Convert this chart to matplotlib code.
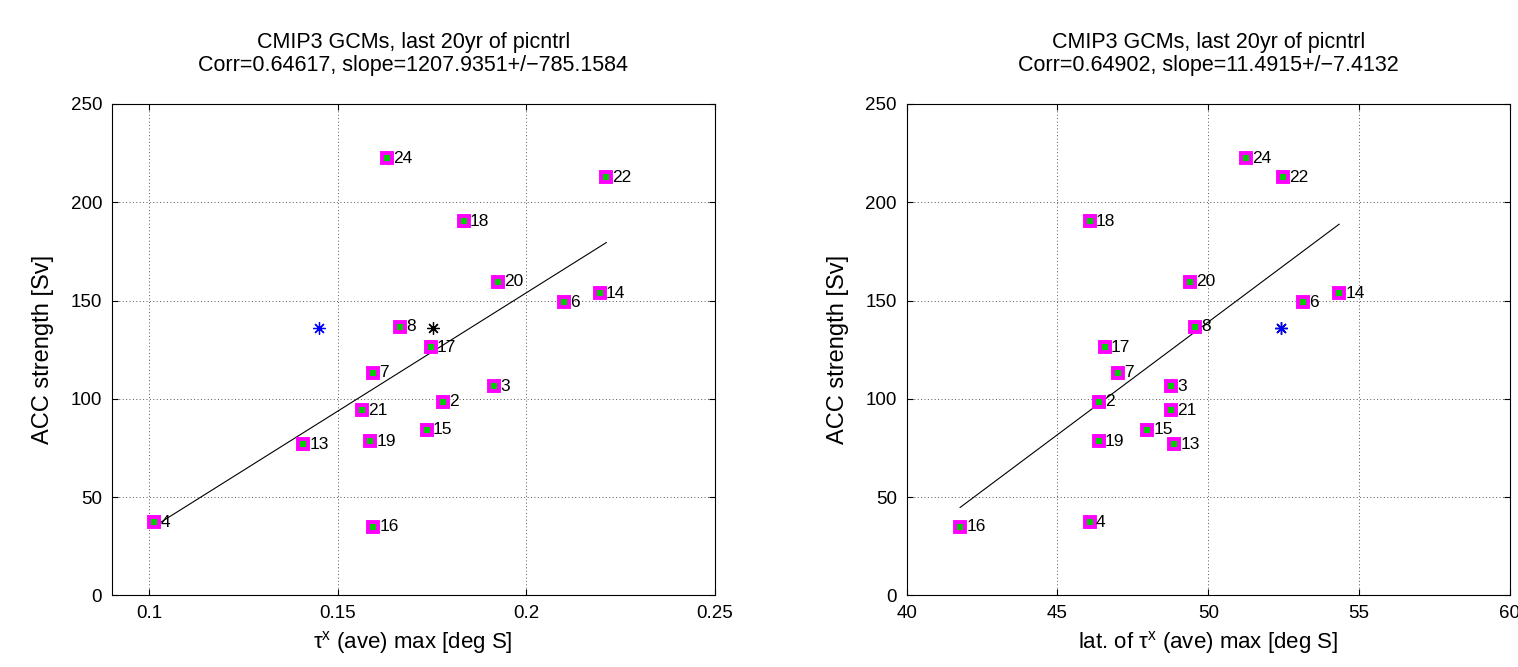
import numpy as np
import matplotlib
matplotlib.use("Agg")
import matplotlib.pyplot as plt

plt.rcParams["font.family"] = ["Liberation Sans", "DejaVu Sans"]
plt.rcParams["mathtext.fontset"] = "custom"
plt.rcParams["mathtext.rm"] = "Liberation Sans"
plt.rcParams["mathtext.it"] = "Liberation Sans"

# model numbers and values
model_ids = [2, 3, 4, 6, 7, 8, 13, 14, 15, 16, 17, 18, 19, 20, 21, 22, 24]
acc_strength = [98.6, 106.4, 37.3, 149.2, 113.3, 136.7, 76.9, 153.7, 84.3,
                35.0, 126.2, 190.4, 78.4, 159.6, 94.3, 212.8, 222.5]
taux_max = [0.1779, 0.1915, 0.1012, 0.2100, 0.1593, 0.1666, 0.1408, 0.2195,
            0.1736, 0.1593, 0.1746, 0.1834, 0.1586, 0.1925, 0.1564, 0.2212,
            0.1631]
lat_taux_max = [46.37, 48.77, 46.07, 53.15, 47.00, 49.55, 48.88, 54.34, 47.98,
                41.77, 46.57, 46.07, 46.37, 49.38, 48.77, 52.47, 51.26]

# observation markers (black, blue)
obs_acc = [136.3, 136.3]
obs_taux = [0.1753, 0.1449]
obs_lat = [52.41, 52.41]
obs_colors = ["black", "blue"]

titles = ["CMIP3 GCMs, last 20yr of picntrl\nCorr=0.64617, slope=1207.9351+/\u2212785.1584",
          "CMIP3 GCMs, last 20yr of picntrl\nCorr=0.64902, slope=11.4915+/\u22127.4132"]
xlabels = [r"$\mathrm{\tau^x}$ (ave) max [deg S]",
           r"lat. of $\mathrm{\tau^x}$ (ave) max [deg S]"]
xlims = [(0.09, 0.25), (40, 60)]
xticks = [[0.1, 0.15, 0.2, 0.25], [40, 45, 50, 55, 60]]
xticklabels = [["0.1", "0.15", "0.2", "0.25"], ["40", "45", "50", "55", "60"]]


def draw_panel(ax, xs, obs_x, k):
    xs = np.array(xs)
    ys = np.array(acc_strength)
    # regression line over the data range
    p = np.polyfit(xs, ys, 1)
    xl = np.array([xs.min(), xs.max()])
    ax.plot(xl, np.polyval(p, xl), color="black", lw=0.8, zorder=2)

    ax.plot(xs, ys, ls="none", marker="s", ms=6.8, mfc="#00cc00",
            mec="magenta", mew=2.8, zorder=3)
    for x, y, n in zip(xs, ys, model_ids):
        ax.annotate(str(n), (x, y), xytext=(4.5, 0), textcoords="offset points",
                    va="center", ha="left", fontsize=12.5, zorder=4)

    for xo, yo, c in zip(obs_x, obs_acc, obs_colors):
        ax.plot([xo], [yo], ls="none", marker=(8, 2, 0), ms=9, mew=0.9,
                color=c, zorder=3)

    ax.set_xlim(*xlims[k])
    ax.set_ylim(0, 250)
    ax.set_xticks(xticks[k])
    ax.set_xticklabels(xticklabels[k])
    ax.set_yticks([0, 50, 100, 150, 200, 250])
    ax.tick_params(direction="in", top=True, right=True, length=4,
                   labelsize=13.5, pad=7)
    ax.grid(True, ls=(0, (1, 2.5)), color="#555555", lw=0.7)
    for s in ax.spines.values():
        s.set_linewidth(0.8)
    ax.set_title(titles[k], fontsize=15.5, linespacing=1.1, pad=24)
    ax.set_xlabel(xlabels[k], fontsize=16, labelpad=5)
    ax.set_ylabel("ACC strength [Sv]", fontsize=17, labelpad=12)


fig = plt.figure(figsize=(15.18, 6.67), dpi=100)
ax1 = fig.add_axes([0.0736, 0.1072, 0.3973, 0.7369])
ax2 = fig.add_axes([0.5973, 0.1072, 0.3973, 0.7369])

draw_panel(ax1, taux_max, obs_taux, 0)
draw_panel(ax2, lat_taux_max, obs_lat, 1)

fig.savefig("out.png", dpi=100)
